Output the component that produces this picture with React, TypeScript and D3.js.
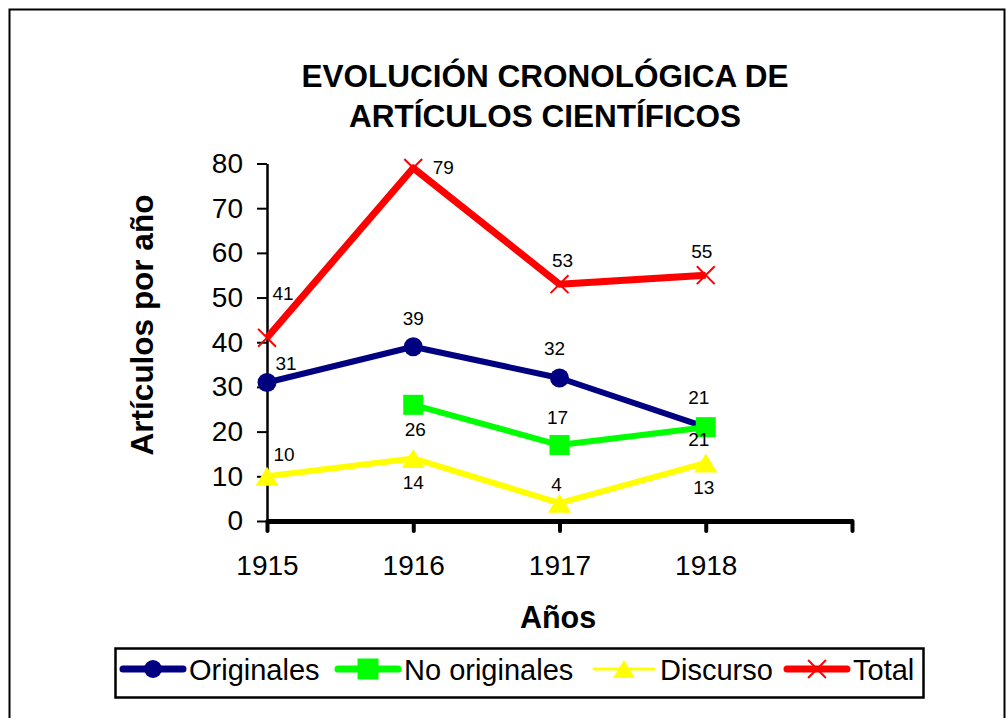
import * as d3 from 'd3';
import { useEffect, useRef } from 'react';

const years = ['1915', '1916', '1917', '1918'];
const originales = [31, 39, 32, 21];
const noOriginales = [null, 26, 17, 21];
const discurso = [10, 14, 4, 13];
const total = [41, 79, 53, 55];
const yTicks = [0, 10, 20, 30, 40, 50, 60, 70, 80];

// label offsets from the point (dx, dy of the label centre)
const offOriginales = [[19, -19], [0, -29], [-5, -30], [-7, -30]];
const offNoOriginales = [[0, 0], [2, 24], [-2, -28], [-7, 12]];
const offDiscurso = [[17, -22], [0, 24], [-3, -19], [-2, 24]];
const offTotal = [[16, -45], [30, -1], [3, -24], [-4, -24]];

const FONT = '"Liberation Sans", Arial, sans-serif';

type Series = { name: string; values: (number | null)[]; color: string; marker: string; off: number[][]; width: number; legendWidth: number };

const series: Series[] = [
  { name: 'Originales', values: originales, color: '#000080', marker: 'circle', off: offOriginales, width: 6, legendWidth: 7 },
  { name: 'No originales', values: noOriginales, color: '#00ff00', marker: 'square', off: offNoOriginales, width: 6, legendWidth: 7 },
  { name: 'Discurso', values: discurso, color: '#ffff00', marker: 'triangle', off: offDiscurso, width: 6, legendWidth: 3 },
  { name: 'Total', values: total, color: '#ff0000', marker: 'cross', off: offTotal, width: 7, legendWidth: 7 },
];

const drawMarker = (g: any, kind: string, cx: number, cy: number, color: string, s: number) => {
  if (kind === 'circle') {
    g.append('circle').attr('cx', cx).attr('cy', cy).attr('r', s * 0.5).attr('fill', color);
  } else if (kind === 'square') {
    g.append('rect').attr('x', cx - s / 2).attr('y', cy - s / 2).attr('width', s).attr('height', s).attr('fill', color);
  } else if (kind === 'triangle') {
    const w = s * 1.15, h = s * 0.95;
    g.append('path')
      .attr('d', `M${cx},${cy - h / 2}L${cx + w / 2},${cy + h / 2}L${cx - w / 2},${cy + h / 2}Z`)
      .attr('fill', color);
  } else {
    const r = s * 0.47;
    g.append('path')
      .attr('d', `M${cx - r},${cy - r}L${cx + r},${cy + r}M${cx - r},${cy + r}L${cx + r},${cy - r}`)
      .attr('stroke', color).attr('stroke-width', 2).attr('fill', 'none');
  }
};

const App = () => {
  const svgRef = useRef<SVGSVGElement>(null);
  const width = 1006;
  const height = 718;

  useEffect(() => {
    const svg = d3.select(svgRef.current);
    svg.selectAll('*').remove();

    svg.append('rect').attr('width', width).attr('height', height).attr('fill', 'white');
    // outer frame
    svg.append('rect')
      .attr('x', 9.5).attr('y', 9.5).attr('width', 995).attr('height', 730)
      .attr('fill', 'none').attr('stroke', 'black').attr('stroke-width', 2);

    // title
    const title = svg.append('text')
      .attr('text-anchor', 'middle')
      .attr('font-family', FONT).attr('font-weight', 'bold').attr('font-size', 31.5);
    title.append('tspan').attr('x', 545).attr('y', 87).text('EVOLUCIÓN CRONOLÓGICA DE');
    title.append('tspan').attr('x', 545).attr('y', 127).text('ARTÍCULOS CIENTÍFICOS');

    const x = d3.scaleLinear().domain([0, 4]).range([267, 852]);
    const y = d3.scaleLinear().domain([0, 80]).range([521, 163.5]);

    // y axis
    const yAxis = d3.axisLeft(y).tickValues(yTicks).tickSize(10).tickSizeOuter(0).tickPadding(14);
    const gy = svg.append('g').attr('transform', 'translate(267,0)').call(yAxis);
    gy.select('.domain').attr('stroke-width', 2.5);
    gy.selectAll('.tick line').attr('stroke-width', 2);
    gy.selectAll('.tick text')
      .attr('font-family', FONT).attr('font-size', 28).attr('fill', 'black');

    // x axis
    const xAxis = d3.axisBottom(x).tickValues([0, 1, 2, 3, 4])
      .tickFormat((i: any) => years[i] ?? '').tickSize(10).tickSizeOuter(0).tickPadding(24);
    const gx = svg.append('g').attr('transform', 'translate(0,521)').call(xAxis);
    gx.select('.domain').attr('stroke-width', 5);
    gx.selectAll('.tick line').attr('stroke-width', 4).attr('stroke-linecap', 'round');
    gx.selectAll('.tick text')
      .attr('font-family', FONT).attr('font-size', 28).attr('fill', 'black');

    // axis titles
    svg.append('text')
      .attr('x', 558).attr('y', 628).attr('text-anchor', 'middle')
      .attr('font-family', FONT).attr('font-weight', 'bold').attr('font-size', 30.5)
      .text('Años');
    svg.append('text')
      .attr('transform', 'translate(153,325) rotate(-90)').attr('text-anchor', 'middle')
      .attr('font-family', FONT).attr('font-weight', 'bold').attr('font-size', 31.5)
      .text('Artículos por año');

    // series
    series.forEach(s => {
      const line = d3.line<number | null>()
        .defined(v => v !== null)
        .x((_, i) => x(i))
        .y(v => y(v as number));
      svg.append('path')
        .datum(s.values)
        .attr('d', line)
        .attr('fill', 'none')
        .attr('stroke', s.color)
        .attr('stroke-width', s.width)
        .attr('stroke-linejoin', 'round');
      const gm = svg.append('g');
      s.values.forEach((v, i) => {
        if (v === null) return;
        drawMarker(gm, s.marker, x(i), y(v), s.color, s.marker === 'circle' ? 19 : s.marker === 'cross' ? 19 : 20);
      });
    });

    // data labels
    series.forEach(s => {
      s.values.forEach((v, i) => {
        if (v === null) return;
        svg.append('text')
          .attr('x', x(i) + s.off[i][0])
          .attr('y', y(v) + s.off[i][1])
          .attr('dy', '0.36em')
          .attr('text-anchor', 'middle')
          .attr('font-family', FONT).attr('font-size', 19).attr('fill', 'black')
          .text(String(v));
      });
    });

    // legend
    svg.append('rect')
      .attr('x', 115.5).attr('y', 648.5).attr('width', 808).attr('height', 49)
      .attr('fill', 'white').attr('stroke', 'black').attr('stroke-width', 2.5);
    const legendStarts = [123, 338, 594, 787];
    const ly = 669;
    series.forEach((s, k) => {
      const x0 = legendStarts[k];
      const gl = svg.append('g');
      gl.append('line')
        .attr('x1', x0).attr('x2', x0 + 60).attr('y1', ly).attr('y2', ly)
        .attr('stroke', s.color).attr('stroke-width', s.legendWidth).attr('stroke-linecap', 'round');
      drawMarker(gl, s.marker, x0 + 30, ly, s.color, s.marker === 'circle' ? 18 : s.marker === 'square' ? 21 : 19);
      gl.append('text')
        .attr('x', x0 + 66).attr('y', 680)
        .attr('font-family', FONT).attr('font-size', 29).attr('fill', 'black')
        .text(s.name);
    });
  });

  return (
    <svg ref={svgRef} width={width} height={height}
      style={{ position: 'absolute', left: 0, top: 0, display: 'block' }} />
  );
};

export default App;
